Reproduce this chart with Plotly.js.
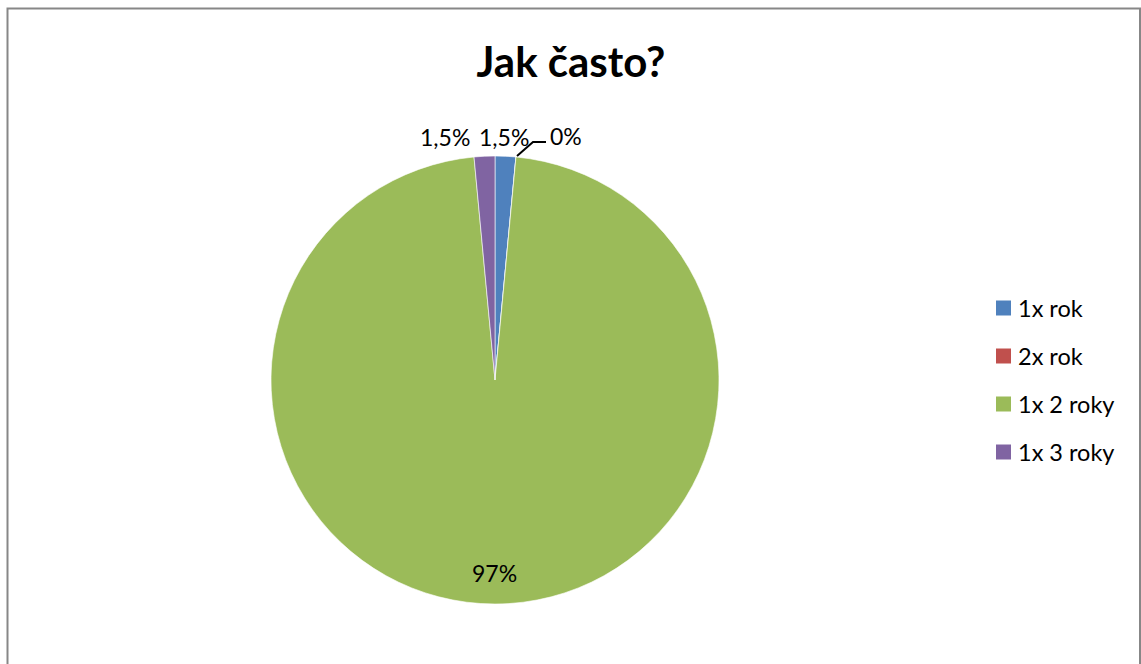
<!DOCTYPE html>
<html>
<head>
<meta charset="utf-8">
<script src="https://cdn.plot.ly/plotly-3.0.1.min.js"></script>
<style>html,body{margin:0;padding:0;background:#fff;}#chart{width:1141px;height:664px;}</style>
</head>
<body>
<div id="chart"></div>
<script>
var categories = ["1x rok", "2x rok", "1x 2 roky", "1x 3 roky"];
var values = [1, 0, 65, 1];
var valueLabels = ["1,5%", "0%", "97%", "1,5%"];
var colors = ["#4F81BD", "#C0504D", "#9BBB59", "#8064A2"];

var W = 1141, H = 664;
function px(x){ return x / W; }
function py(y){ return 1 - y / H; }

var trace = {
  type: "pie",
  labels: categories,
  values: values,
  sort: false,
  direction: "clockwise",
  rotation: 0,
  textinfo: "none",
  hoverinfo: "label+percent",
  marker: {colors: colors, line: {color: "#ffffff", width: 0.6}},
  domain: {x: [px(495 - 224), px(495 + 224)], y: [py(380 + 224), py(380 - 224)]},
  showlegend: false
};

// label positions (pixel) for each category's value label
var labelPos = [[504, 137], [566, 136], [494, 573], [445, 137]];
var annotations = [];
for (var i = 0; i < categories.length; i++) {
  annotations.push({
    xref: "paper", yref: "paper",
    x: px(labelPos[i][0]), y: py(labelPos[i][1]),
    text: valueLabels[i], showarrow: false,
    xanchor: "center", yanchor: "middle",
    font: {family: "Lato, 'Open Sans', sans-serif", size: 23, color: "#000"}
  });
}
// legend
var shapes = [];
var legendY = [308, 356, 404, 452];
for (var j = 0; j < categories.length; j++) {
  shapes.push({
    type: "rect", xref: "paper", yref: "paper",
    x0: px(996), x1: px(1011), y0: py(legendY[j] + 7.5), y1: py(legendY[j] - 7.5),
    fillcolor: colors[j], line: {width: 0}
  });
  annotations.push({
    xref: "paper", yref: "paper",
    x: px(1016), y: py(legendY[j]),
    text: categories[j], showarrow: false,
    xanchor: "left", yanchor: "middle",
    font: {family: "Lato, 'Open Sans', sans-serif", size: 23.5, color: "#000"}
  });
}
// leader line for 0% label
shapes.push({
  type: "path", xref: "paper", yref: "paper",
  path: "M " + px(517) + "," + py(156) + " L " + px(533) + "," + py(142) + " L " + px(546) + "," + py(142),
  line: {color: "#000", width: 2}
});
// chart border
shapes.push({
  type: "rect", xref: "paper", yref: "paper",
  x0: px(7.5), x1: px(1140), y0: py(700), y1: py(8.5),
  line: {color: "#878787", width: 2}, fillcolor: "rgba(0,0,0,0)", layer: "below"
});

var layout = {
  width: W, height: H,
  margin: {l: 0, r: 0, t: 0, b: 0},
  paper_bgcolor: "#ffffff",
  title: {
    text: "<b>Jak často?</b>",
    x: px(571), xanchor: "center",
    y: py(62), yanchor: "middle",
    font: {family: "Lato, 'Open Sans', sans-serif", size: 42, color: "#000"}
  },
  showlegend: false,
  annotations: annotations,
  shapes: shapes
};

Plotly.newPlot("chart", [trace], layout, {displayModeBar: false, staticPlot: true});
</script>
</body>
</html>
